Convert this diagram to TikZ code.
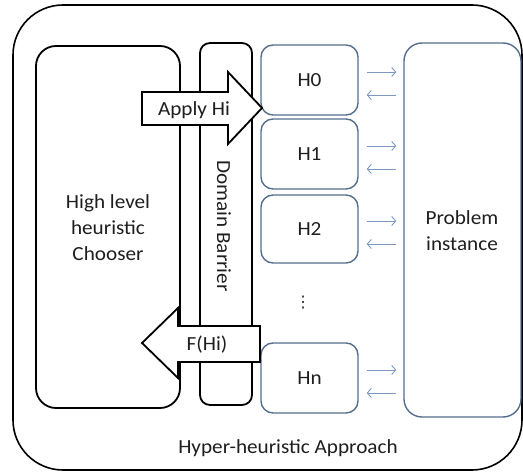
\documentclass[tikz,border=0pt]{standalone}
\usepackage{fontspec}
\setmainfont{Carlito}[FakeStretch=1.06]
\newfontfamily\symfont{DejaVu Sans}
\usetikzlibrary{calc,arrows.meta}

\definecolor{hblue}{HTML}{566E8E}
\definecolor{arrblue}{HTML}{7D98C0}
\definecolor{txtgray}{HTML}{1E1E1E}

\tikzset{
  blackbox/.style={draw=black, line width=1.8pt, rounded corners=#1, inner sep=0pt},
  hbox/.style={draw=hblue, line width=1.4pt, rounded corners=12pt, minimum width=97pt, inner sep=0pt},
  smallarr/.style={arrblue, line width=0.9pt, -{Straight Barb[length=4pt,width=9pt]}},
  bigarr/.style={draw=black, fill=white, line width=1.8pt, line join=miter},
  lbl/.style={text=txtgray, font=\fontsize{20}{26}\selectfont, inner sep=0pt}
}

\begin{document}
\begin{tikzpicture}[x=1pt, y=-1pt]
\useasboundingbox (0,0) rectangle (523,473);

% outer frame
\draw[line width=1.6pt, rounded corners=50pt] (13,5) rectangle (522,470);
\node[lbl] (approach) at (288,448) {Hyper-heuristic Approach};

% chooser and barrier
\node[blackbox=20pt, minimum width=144pt, minimum height=362pt] (chooser) at (108,227) {};
\node[lbl, align=center] (chooserlbl) at (108,228) {High level\\heuristic\\Chooser};
\node[blackbox=10pt, minimum width=52pt, minimum height=362pt] (barrier) at (226,224) {};
\node[lbl, rotate=-90] (barrierlbl) at (224,226) {Domain Barrier};

% low level heuristics
\node[hbox, minimum height=70pt] (h0) at (309.5,80) {};
\node[lbl] at (h0) {H0};
\node[hbox, minimum height=70pt] (h1) at (309.5,154) {};
\node[lbl] at (h1) {H1};
\node[hbox, minimum height=68pt] (h2) at (309.5,229) {};
\node[lbl] at (h2) {H2};
\node[lbl, font=\fontsize{16}{16}\symfont] (dots) at (303,303) {⋮};
\node[hbox, minimum height=70pt] (hn) at (309.5,378) {};
\node[lbl] at (hn) {Hn};

% problem instance
\node[draw=hblue, line width=1.4pt, rounded corners=18pt, minimum width=117pt, minimum height=374pt] (prob) at (462.5,230) {};
\node[lbl, align=center] (problbl) at (462,231) {Problem\\instance};

\foreach \h in {h0,h1,h2,hn} {
  \draw[smallarr] ($(\h.east)+(8,-8)$) -- ($(prob.west |- \h.east)+(-7,-8)$);
  \draw[smallarr] ($(prob.west |- \h.east)+(-7,15)$) -- ($(\h.east)+(8,15)$);
}

% block arrows
\draw[bigarr] (142,92) -- (228,92) -- (228,72) -- (262,108) -- (228,144) -- (228,125) -- (142,125) -- cycle;
\node[lbl] (apply) at (194,110) {Apply Hi};
\draw[bigarr] (260,326) -- (178,326) -- (178,308) -- (142,343) -- (178,378) -- (178,362) -- (260,362) -- cycle;
\node[lbl] (fhi) at (207,345) {F(Hi)};

\end{tikzpicture}
\end{document}
